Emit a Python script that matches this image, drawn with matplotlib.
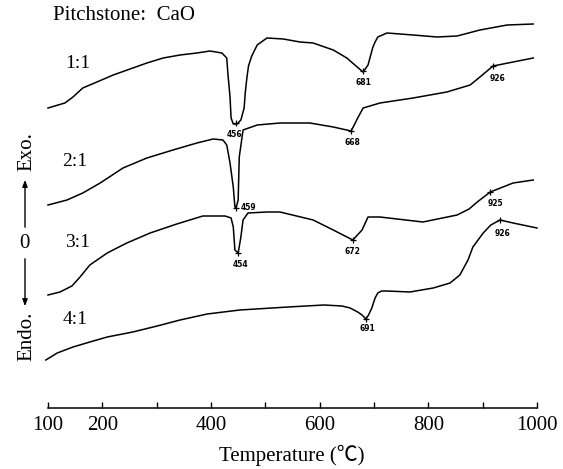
import numpy as np
import matplotlib.pyplot as plt
from matplotlib.patches import FancyArrowPatch

# ---------------------------------------------------
# Daten: Temperatur [°C], Signalhoehe [willk. Einheit]
# ---------------------------------------------------
T1 = [100, 131, 146, 164, 190, 220, 251, 282, 312, 343, 374, 398, 420, 429, 431,
      435, 437, 441, 448, 455, 461, 463, 466, 469, 475, 485, 503, 533, 564, 588,
      625, 650, 669, 680, 689, 698, 702, 707, 724, 772, 816, 853, 895, 945, 993]
h1 = [300, 305, 311, 320, 326, 333, 339, 345, 350, 353, 355, 357, 355, 350, 335,
      311, 290, 284, 284, 288, 300, 315, 330, 342, 352, 363, 370, 369, 366, 365,
      358, 350, 341, 336, 343, 361, 366, 371, 375, 373, 371, 372, 378, 383, 384]

T2 = [100, 135, 164, 196, 238, 282, 330, 374, 404, 422, 429, 435, 441, 444, 446,
      450, 452, 459, 485, 527, 582, 625, 658, 671, 680, 711, 772, 834, 877, 895,
      919, 956, 993]
h2 = [203, 208, 215, 225, 240, 250, 258, 265, 269, 268, 263, 245, 221, 201, 200,
      208, 251, 278, 283, 285, 285, 281, 277, 291, 300, 305, 310, 316, 323, 331,
      342, 346, 350]

T3 = [100, 122, 144, 159, 177, 209, 245, 288, 337, 385, 426, 437, 441, 444, 450,
      455, 459, 468, 503, 527, 588, 625, 661, 678, 689, 711, 790, 853, 875, 890,
      914, 956, 993]
h3 = [113, 116, 122, 131, 143, 155, 165, 175, 184, 192, 192, 190, 181, 158, 155,
      171, 188, 195, 196, 196, 188, 178, 168, 178, 191, 191, 186, 193, 199, 206,
      216, 225, 228]

T4 = [96, 117, 146, 177, 209, 256, 301, 343, 393, 453, 542, 608, 641, 656, 670,
      678, 685, 690, 696, 702, 707, 714, 724, 766, 809, 840, 858, 873, 882, 901,
      915, 932, 956, 1000]
h4 = [48, 55, 61, 66, 71, 76, 82, 88, 94, 98, 101, 103, 102, 100, 96,
      93, 89, 93, 100, 110, 115, 117, 117, 116, 120, 125, 133, 148, 161, 175,
      183, 188, 185, 180]

curve_names = ["1:1", "2:1", "3:1", "4:1"]

# Peaks: Position und Beschriftung
peak_T = [446, 680, 446, 658, 919, 450, 661, 914, 685, 932]
peak_h = [285, 337, 200, 277, 342, 155, 168, 216, 89, 188]
peak_text = ["456", "681", "459", "668", "926", "454", "672", "925", "691", "926"]

x_ticks = [100, 200, 300, 400, 500, 600, 700, 800, 900, 1000]
x_ticklabels = ["100", "200", "", "400", "", "600", "", "800", "", "1000"]

# ---------------------------------------------------
# Diagramm
# ---------------------------------------------------
W, H = 563, 469
fig = plt.figure(figsize=(W / 100, H / 100), dpi=100)
ax = fig.add_axes([48 / W, 61 / H, 489 / W, 408 / H])
ax.set_xlim(100, 1000)
ax.set_ylim(0, 408)

serif = ["Liberation Serif", "Noto Sans CJK SC", "DejaVu Serif"]

for T, h in [(T1, h1), (T2, h2), (T3, h3), (T4, h4)]:
    ax.plot(T, h, color="black", lw=1.1, solid_joinstyle="round", clip_on=False)

ax.plot(peak_T, peak_h, "+", color="black", ms=5, mew=0.9, clip_on=False)

# Beschriftungsversatz in Punkten (x, y)
offsets = [(-1, -8), (0, -8), (9, 0), (1, -8), (3, -9),
           (2, -8), (0, -8), (4, -8), (1, -7), (2, -10)]
for t, hh, s, (dx, dy) in zip(peak_T, peak_h, peak_text, offsets):
    ax.annotate(s, (t, hh), xytext=(dx, dy), textcoords="offset points",
                ha="center", va="center", fontsize=5.5, fontweight="bold",
                family="DejaVu Sans")

# Kurvennamen
name_pos = [(155, 345), (150, 246), (155, 166), (150, 88)]
for name, (t, hh) in zip(curve_names, name_pos):
    ax.text(t, hh, name, fontsize=14, family=serif, ha="center", va="center")

# Achsen
for side in ["left", "right", "top"]:
    ax.spines[side].set_visible(False)
ax.spines["bottom"].set_linewidth(1.1)
ax.set_yticks([])
ax.set_xticks(x_ticks)
ax.set_xticklabels(x_ticklabels, family=serif, fontsize=15)
ax.tick_params(axis="x", direction="in", length=4, width=1, pad=6)

fig.text(292 / W, 1 - 455 / H, "Temperature (℃)", family=serif, fontsize=15,
         ha="center", va="center")
fig.text(53 / W, 1 - 16 / H, "Pitchstone:  CaO", family=serif, fontsize=15,
         ha="left", va="center")

# Exo / Endo Beschriftung links
fig.text(27 / W, 1 - 152 / H, "Exo.", family=serif, fontsize=15, rotation=90,
         ha="center", va="center")
fig.text(27 / W, 1 - 336 / H, "Endo.", family=serif, fontsize=15, rotation=90,
         ha="center", va="center")
fig.text(24 / W, 1 - 243 / H, "0", family=serif, fontsize=15,
         ha="center", va="center")
fig.patches.append(FancyArrowPatch(
    (25 / W, 1 - 230 / H), (25 / W, 1 - 177 / H), transform=fig.transFigure,
    arrowstyle="-|>,head_length=4,head_width=1.5", color="black", lw=1))
fig.patches.append(FancyArrowPatch(
    (25 / W, 1 - 256 / H), (25 / W, 1 - 309 / H), transform=fig.transFigure,
    arrowstyle="-|>,head_length=4,head_width=1.5", color="black", lw=1))

fig.savefig("out.png", dpi=100)
